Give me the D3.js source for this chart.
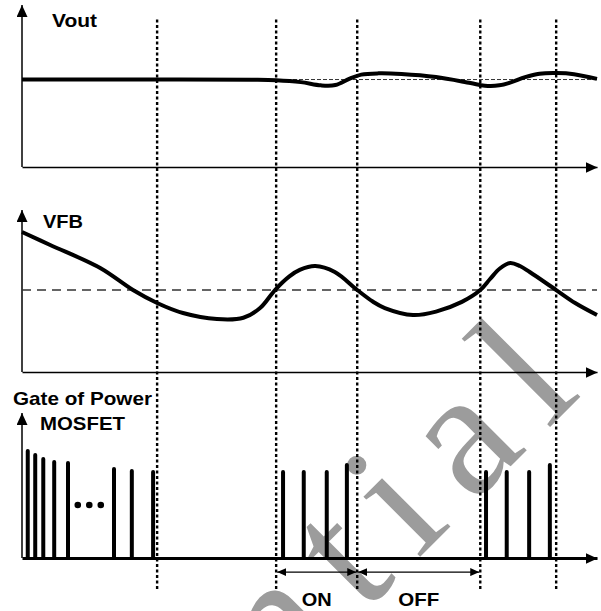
<!DOCTYPE html>
<html>
<head>
<meta charset="utf-8">
<script src="https://cdn.jsdelivr.net/npm/d3@7"></script>
<style>
  body { margin: 0; background: #fff; }
  text { font-family: "Liberation Sans", Arial, sans-serif; font-weight: bold; }
</style>
</head>
<body>
<div id="chart"></div>
<script>
// time axis runs 0..100, each panel value axis 0..100
var cutTimes = [23.5, 44.2, 58.3, 79.7, 92.9];

var voutT = [0, 23.5, 40, 44.2, 48.5, 52, 54.5, 57, 59, 62, 66, 72, 78, 80.5, 83, 85, 87.5, 90, 93, 96, 100];
var voutV = [54, 54, 53.9, 53.6, 52.4, 50.4, 50.6, 54.5, 57, 57.8, 57.4, 55.5, 51.8, 50.2, 50.4, 52.2, 55.5, 57.6, 58, 57.3, 54.4];
var voutRef = 54;

var vfbT = [0, 4.9, 13.6, 19.3, 23.5, 28, 33.9, 38.5, 41.4, 44, 46.5, 48.3, 51, 54.4, 58.3, 61, 63.1, 68, 72, 76.5, 79.7, 81.4, 83.1, 84.9, 86.6, 88.3, 92.9, 96.2, 100];
var vfbV = [86.4, 78.4, 64.2, 50.6, 42.6, 36.4, 32.7, 33.5, 39.5, 50.6, 59, 63, 65.4, 61.7, 50.6, 43.5, 39.5, 35.2, 37.3, 43.3, 50.6, 57.4, 63.9, 67.3, 65.4, 61.7, 50.6, 42.6, 35.2];
var vfbRef = 50.6;

var pulseT = [1.0, 2.3, 3.7, 5.6, 8.0, 16.0, 19.1, 22.8, 45.4, 49.0, 53.0, 56.5, 80.7, 84.3, 88.2, 91.8];
var pulseH = [73.8, 71.0, 68.3, 66.2, 65.5, 61.4, 60.0, 59.3, 59.3, 59.3, 59.3, 64.1, 59.3, 59.3, 59.3, 64.1];
var ellipsisT = [9.7, 11.7, 13.7];
var ellipsisV = 36.6;

var phaseLabels = ["ON", "OFF"];
var phaseStart = [44.2, 58.3];
var phaseEnd = [58.3, 79.7];

var width = 601, height = 611;
var svg = d3.select("#chart").append("svg")
    .attr("width", width)
    .attr("height", height);

var x = d3.scaleLinear().domain([0, 100]).range([22, 597]);
var yTop = d3.scaleLinear().domain([0, 100]).range([167, 5]);
var yMid = d3.scaleLinear().domain([0, 100]).range([372, 210]);
var yBot = d3.scaleLinear().domain([0, 100]).range([558, 413]);

var defs = svg.append("defs");
function addMarker(id, len, wid) {
    defs.append("marker")
        .attr("id", id)
        .attr("markerUnits", "userSpaceOnUse")
        .attr("viewBox", "0 0 " + len + " " + wid)
        .attr("refX", len).attr("refY", wid / 2)
        .attr("markerWidth", len).attr("markerHeight", wid)
        .attr("orient", "auto-start-reverse")
        .append("path")
        .attr("d", "M0,0L" + len + "," + (wid / 2) + "L0," + wid + "Z")
        .attr("fill", "#000");
}
addMarker("axisHead", 12, 11);
addMarker("spanHead", 9, 8);

// watermark sits under everything
svg.append("text")
    .attr("transform", "translate(602,375) rotate(-45)")
    .attr("text-anchor", "end")
    .style("font-family", "'Liberation Serif', 'Times New Roman', serif")
    .style("font-weight", "normal")
    .style("font-size", "180px")
    .style("letter-spacing", "27px")
    .attr("fill", "#9c9c9c")
    .text("Confidential");

// axes without ticks, arrow on the domain line
function drawAxes(yScale, thick) {
    var gx = svg.append("g")
        .attr("transform", "translate(0," + yScale(0) + ")")
        .call(d3.axisBottom(x).ticks(0).tickSizeOuter(0));
    gx.select(".domain")
        .attr("stroke-width", thick)
        .attr("marker-end", "url(#axisHead)");
    var gy = svg.append("g")
        .attr("transform", "translate(" + x(0) + ",0)")
        .call(d3.axisLeft(yScale).ticks(0).tickSizeOuter(0));
    gy.select(".domain")
        .attr("stroke-width", 1.5)
        .attr("d", "M0," + yScale(0) + "V" + yScale(100))
        .attr("marker-end", "url(#axisHead)");
}
drawAxes(yTop, 1.5);
drawAxes(yMid, 1.5);
drawAxes(yBot, 3);

// reference levels
svg.append("line")
    .attr("x1", x(44)).attr("x2", x(100))
    .attr("y1", yTop(voutRef)).attr("y2", yTop(voutRef))
    .attr("stroke", "#000").attr("stroke-width", 0.8)
    .attr("stroke-dasharray", "4,2");

svg.append("line")
    .attr("x1", x(0)).attr("x2", x(100))
    .attr("y1", yMid(vfbRef)).attr("y2", yMid(vfbRef))
    .attr("stroke", "#333").attr("stroke-width", 1.5)
    .attr("stroke-dasharray", "9,6");

// Vout
svg.append("path")
    .datum(d3.zip(voutT, voutV))
    .attr("fill", "none").attr("stroke", "#000").attr("stroke-width", 4)
    .attr("d", d3.line().x(function(d) { return x(d[0]); }).y(function(d) { return yTop(d[1]); })
        .curve(d3.curveCatmullRom));

// VFB
svg.append("path")
    .datum(d3.zip(vfbT, vfbV))
    .attr("fill", "none").attr("stroke", "#000").attr("stroke-width", 4)
    .attr("d", d3.line().x(function(d) { return x(d[0]); }).y(function(d) { return yMid(d[1]); })
        .curve(d3.curveCatmullRom));

// gate pulses
svg.selectAll(".pulse").data(d3.zip(pulseT, pulseH)).enter().append("line")
    .attr("class", "pulse")
    .attr("x1", function(d) { return x(d[0]); }).attr("x2", function(d) { return x(d[0]); })
    .attr("y1", yBot(0)).attr("y2", function(d) { return yBot(d[1]); })
    .attr("stroke", "#000").attr("stroke-width", 4)
    .attr("stroke-linecap", "round");

svg.selectAll(".dot").data(ellipsisT).enter().append("circle")
    .attr("class", "dot")
    .attr("cx", function(d) { return x(d); }).attr("cy", yBot(ellipsisV))
    .attr("r", 3.3).attr("fill", "#000");

// dotted time markers across all panels
svg.selectAll(".cut").data(cutTimes).enter().append("line")
    .attr("class", "cut")
    .attr("x1", function(d) { return x(d); }).attr("x2", function(d) { return x(d); })
    .attr("y1", yTop(91)).attr("y2", yBot(-22))
    .attr("stroke", "#000").attr("stroke-width", 2.4)
    .attr("stroke-dasharray", "3,2.5");

// ON / OFF spans
var spanY = yBot(-9.7);
phaseLabels.forEach(function(lbl, i) {
    svg.append("line")
        .attr("x1", x(phaseStart[i]) + 1).attr("x2", x(phaseEnd[i]) - 1)
        .attr("y1", spanY).attr("y2", spanY)
        .attr("stroke", "#000").attr("stroke-width", 1.2)
        .attr("marker-start", "url(#spanHead)")
        .attr("marker-end", "url(#spanHead)");
});

// labels
var labelSize = "18.5px";
function label(txt, px, py, len, anchor) {
    svg.append("text")
        .attr("x", px).attr("y", py)
        .attr("text-anchor", anchor || "start")
        .attr("textLength", len).attr("lengthAdjust", "spacingAndGlyphs")
        .style("font-size", labelSize)
        .attr("fill", "#000")
        .text(txt);
}
label("Vout", 52, 27, 45);
label("VFB", 43, 228, 40);
label("Gate of Power", 13, 405, 139);
label("MOSFET", 40, 430, 85);
phaseLabels.forEach(function(lbl, i) {
    label(lbl, x((phaseStart[i] + phaseEnd[i]) / 2), yBot(-33), lbl.length == 2 ? 30 : 41, "middle");
});
</script>
</body>
</html>
